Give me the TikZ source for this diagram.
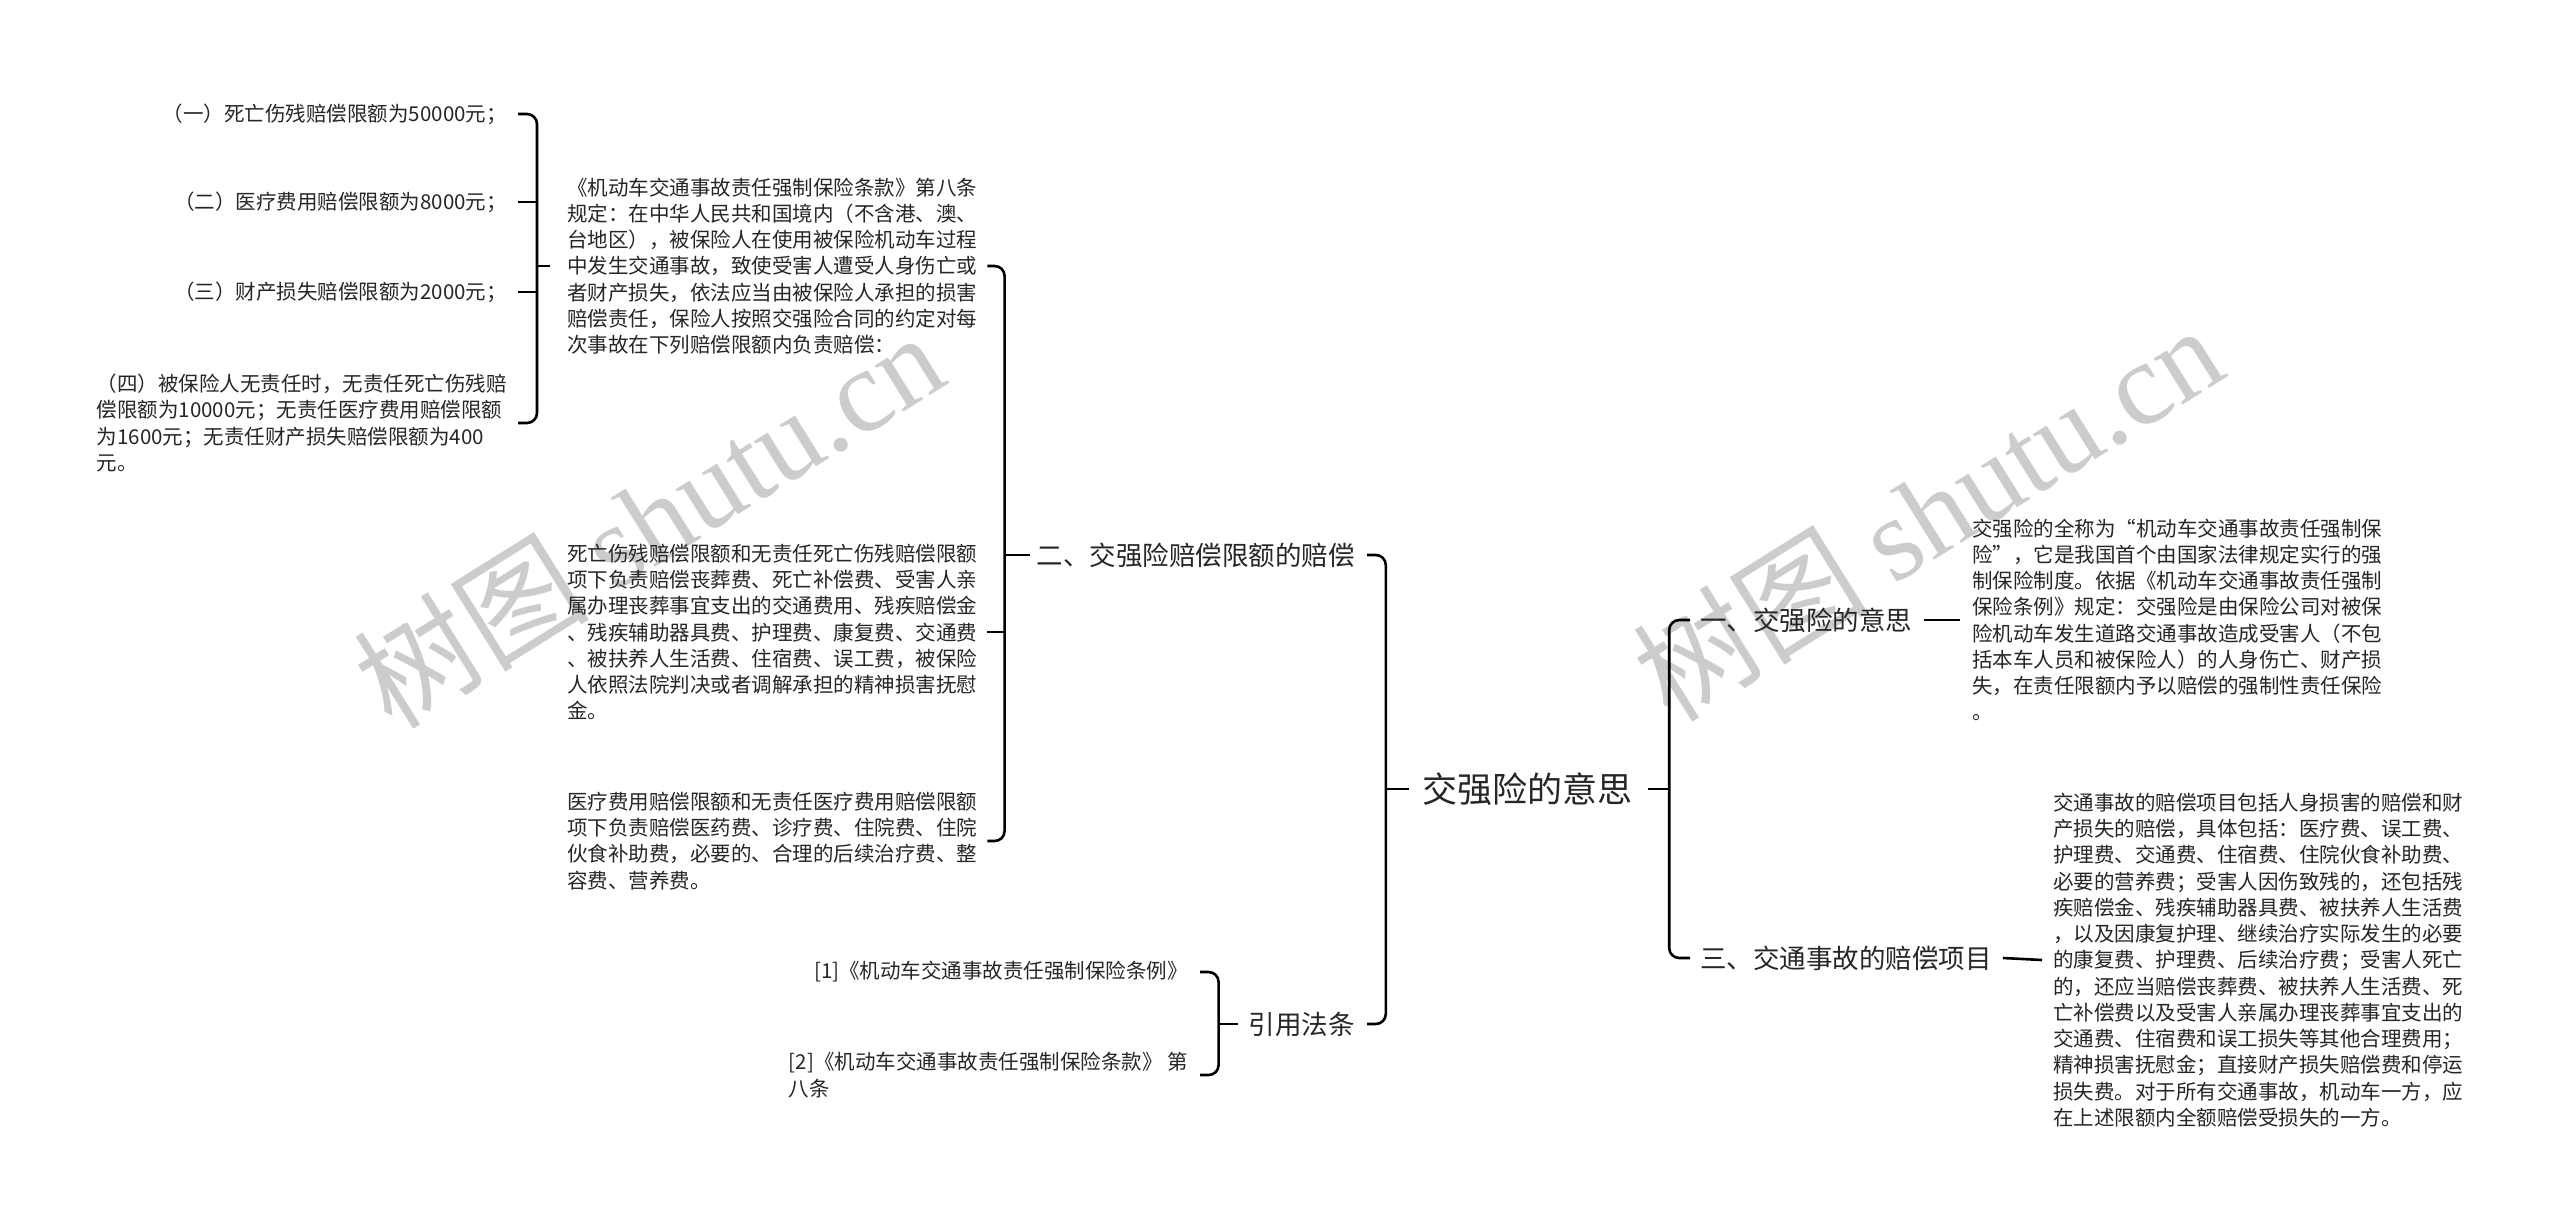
\documentclass[tikz,border=0pt]{standalone}
\usepackage{fontspec}
\setmainfont{Noto Sans CJK SC}
\newfontfamily\markserif{Liberation Serif}
\usepackage{tikz}
\usetikzlibrary{calc}

\tikzset{
  link/.style={line width=2.6pt,rounded corners=10pt},
  leaf/.style={inner sep=0pt,align=left,text=black!85,
    font=\fontsize{20.5}{26.25}\selectfont},
  branch/.style={inner sep=0pt,text=black!85,
    font=\fontsize{26.5}{32}\selectfont},
  root/.style={inner sep=0pt,text=black!85,
    font=\fontsize{35}{40}\selectfont},
  watermark/.style={inner sep=0pt,text=black!20,rotate=32,
    font=\fontsize{118}{118}\selectfont}
}

\begin{document}
\begin{tikzpicture}[x=1pt,y=-1pt]
  \fill[white] (0,0) rectangle (2560,1228);
  \useasboundingbox (0,0) rectangle (2560,1228);

  % Watermarks behind everything.
  \node[watermark] (wmleft) at (648,519) {树图 {\markserif shutu.cn}};
  \node[watermark] (wmright) at (1927,512) {树图 {\markserif shutu.cn}};

  % The root and its four branches.
  \node[root] (root) at (1527,789) {交强险的意思};
  \node[branch,anchor=east] (limit) at (1355,555) {二、交强险赔偿限额的赔偿};
  \node[branch,anchor=east] (law) at (1355,1024) {引用法条};
  \node[branch,anchor=west] (meaning) at (1700,620) {一、交强险的意思};
  \node[branch,anchor=west] (items) at (1700,958) {三、交通事故的赔偿项目};

  % Texts under the limits branch.
  \node[leaf,anchor=west] (clause) at (567,266) {%
    《机动车交通事故责任强制保险条款》第八条\\
    规定：在中华人民共和国境内（不含港、澳、\\
    台地区），被保险人在使用被保险机动车过程\\
    中发生交通事故，致使受害人遭受人身伤亡或\\
    者财产损失，依法应当由被保险人承担的损害\\
    赔偿责任，保险人按照交强险合同的约定对每\\
    次事故在下列赔偿限额内负责赔偿：};
  \node[leaf,anchor=west] (death) at (567,632) {%
    死亡伤残赔偿限额和无责任死亡伤残赔偿限额\\
    项下负责赔偿丧葬费、死亡补偿费、受害人亲\\
    属办理丧葬事宜支出的交通费用、残疾赔偿金\\
    、残疾辅助器具费、护理费、康复费、交通费\\
    、被扶养人生活费、住宿费、误工费，被保险\\
    人依照法院判决或者调解承担的精神损害抚慰\\
    金。};
  \node[leaf,anchor=west] (medical) at (567,841) {%
    医疗费用赔偿限额和无责任医疗费用赔偿限额\\
    项下负责赔偿医药费、诊疗费、住院费、住院\\
    伙食补助费，必要的、合理的后续治疗费、整\\
    容费、营养费。};

  % The four limit amounts.
  \node[leaf,anchor=east] (lim1) at (507,114) {（一）死亡伤残赔偿限额为50000元；};
  \node[leaf,anchor=east] (lim2) at (507,202) {（二）医疗费用赔偿限额为8000元；};
  \node[leaf,anchor=east] (lim3) at (507,292) {（三）财产损失赔偿限额为2000元；};
  \node[leaf,anchor=east] (lim4) at (507,423) {%
    （四）被保险人无责任时，无责任死亡伤残赔\\
    偿限额为10000元；无责任医疗费用赔偿限额\\
    为1600元；无责任财产损失赔偿限额为400\\
    元。};

  % Cited rules.
  \node[leaf,anchor=east] (law1) at (1188,972) {[1]《机动车交通事故责任强制保险条例》};
  \node[leaf,anchor=east] (law2) at (1188,1075) {%
    [2]《机动车交通事故责任强制保险条款》 第\\
    八条};

  % Right-hand texts.
  \node[leaf,anchor=west] (meaningtxt) at (1972,620) {%
    交强险的全称为“机动车交通事故责任强制保\\
    险”，它是我国首个由国家法律规定实行的强\\
    制保险制度。依据《机动车交通事故责任强制\\
    保险条例》规定：交强险是由保险公司对被保\\
    险机动车发生道路交通事故造成受害人（不包\\
    括本车人员和被保险人）的人身伤亡、财产损\\
    失，在责任限额内予以赔偿的强制性责任保险\\
    。};
  \node[leaf,anchor=west] (itemstxt) at (2053,960) {%
    交通事故的赔偿项目包括人身损害的赔偿和财\\
    产损失的赔偿，具体包括：医疗费、误工费、\\
    护理费、交通费、住宿费、住院伙食补助费、\\
    必要的营养费；受害人因伤致残的，还包括残\\
    疾赔偿金、残疾辅助器具费、被扶养人生活费\\
    ，以及因康复护理、继续治疗实际发生的必要\\
    的康复费、护理费、后续治疗费；受害人死亡\\
    的，还应当赔偿丧葬费、被扶养人生活费、死\\
    亡补偿费以及受害人亲属办理丧葬事宜支出的\\
    交通费、住宿费和误工损失等其他合理费用；\\
    精神损害抚慰金；直接财产损失赔偿费和停运\\
    损失费。对于所有交通事故，机动车一方，应\\
    在上述限额内全额赔偿受损失的一方。};

  % Spines of the brackets.
  \coordinate (rootspine) at ([xshift=-36]root.west);
  \coordinate (limitspine) at ([xshift=-32]limit.west);
  \coordinate (clausespine) at ([xshift=-30]clause.west);
  \coordinate (lawspine) at ([xshift=-30]law.west);

  % Root brackets.
  \draw[link] ([xshift=12]limit.east) -| (rootspine) |- ([xshift=12]law.east);
  \draw[link] ([xshift=-13]root.west) -- (rootspine);
  \draw[link] ([xshift=-10]meaning.west) -| ([xshift=37]root.east)
    |- ([xshift=-10]items.west);
  \draw[link] ([xshift=16]root.east) -- ([xshift=37]root.east);

  % Limits bracket.
  \draw[link] ([xshift=10]clause.east) -| (limitspine) |- ([xshift=10]medical.east);
  \draw[link] ([xshift=10]death.east) -- (death.east -| limitspine);
  \draw[link] ([xshift=-7]limit.west) -- (limitspine);

  % Amounts bracket.
  \draw[link] ([xshift=11]lim1.east) -| (clausespine) |- ([xshift=11]lim4.east);
  \foreach \n in {lim2,lim3}
    \draw[link] ([xshift=11]\n.east) -- (\n.east -| clausespine);
  \draw[link] ([xshift=-17]clause.west) -- (clausespine);

  % Cited rules bracket.
  \draw[link] ([xshift=12]law1.east) -| (lawspine) |- ([xshift=12]law2.east);
  \draw[link] ([xshift=-11]law.west) -- (lawspine);

  % Right leaves.
  \draw[link] ([xshift=12]meaning.east) -- ([xshift=-12]meaningtxt.west);
  \draw[link] ([xshift=11]items.east) -- ([xshift=-11]itemstxt.west);
\end{tikzpicture}
\end{document}
